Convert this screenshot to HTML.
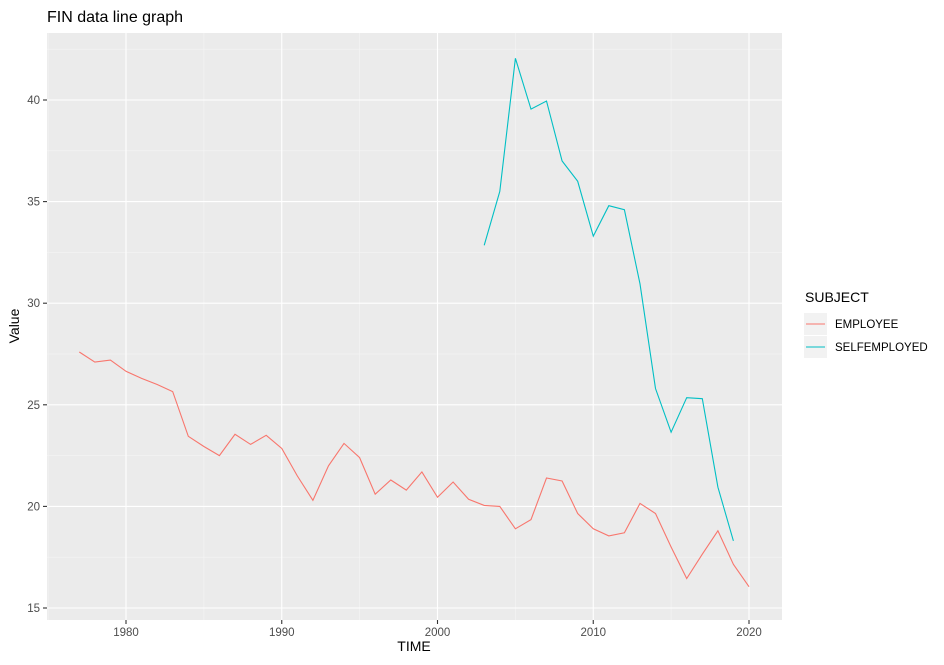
<!DOCTYPE html>
<html><head><meta charset="utf-8"><style>
body{margin:0;background:#fff;font-family:"Liberation Sans",Arial,sans-serif}
svg text{font-family:"Liberation Sans",Arial,sans-serif}
</style></head><body>
<svg id="chart" width="944" height="660" xmlns="http://www.w3.org/2000/svg">
<rect width="944" height="660" fill="#fff"/>
<text x="47" y="22" font-size="16" fill="#000">FIN data line graph</text>
<rect x="47" y="33" width="735" height="587" fill="#ebebeb"/>
<g id="grid"></g><g id="series"></g><g id="axes"></g>
<text x="414" y="651" font-size="14" text-anchor="middle">TIME</text>
<text transform="translate(19,326) rotate(-90)" font-size="14" text-anchor="middle">Value</text>
<g>
<text x="805" y="302" font-size="14">SUBJECT</text>
<rect x="804" y="313" width="23" height="22" fill="#f2f2f2"/>
<line x1="806" x2="825" y1="324" y2="324" stroke="#F8766D" stroke-width="1.1"/>
<text x="835" y="328" font-size="11.5">EMPLOYEE</text>
<rect x="804" y="336" width="23" height="22" fill="#f2f2f2"/>
<line x1="806" x2="825" y1="347" y2="347" stroke="#00BFC4" stroke-width="1.1"/>
<text x="835" y="351" font-size="11.5">SELFEMPLOYED</text>
</g>
</svg>
<script>
const empYears=[1977,1978,1979,1980,1981,1982,1983,1984,1985,1986,1987,1988,1989,1990,1991,1992,1993,1994,1995,1996,1997,1998,1999,2000,2001,2002,2003,2004,2005,2006,2007,2008,2009,2010,2011,2012,2013,2014,2015,2016,2017,2018,2019,2020];
const empValues=[27.6,27.1,27.2,26.65,26.3,26.0,25.65,23.45,22.95,22.5,23.55,23.05,23.5,22.85,21.5,20.3,22.0,23.1,22.4,20.6,21.3,20.8,21.7,20.45,21.2,20.35,20.05,20.0,18.9,19.35,21.4,21.25,19.65,18.9,18.55,18.7,20.15,19.65,18.0,16.45,17.65,18.8,17.15,16.05];
const selfYears=[2003,2004,2005,2006,2007,2008,2009,2010,2011,2012,2013,2014,2015,2016,2017,2018,2019];
const selfValues=[32.85,35.5,42.05,39.55,39.95,37.0,36.0,33.3,34.8,34.6,30.95,25.8,23.65,25.35,25.3,20.95,18.3];
const xTicks=[1980,1990,2000,2010,2020];
const yTicks=[15,20,25,30,35,40];
const NS="http://www.w3.org/2000/svg";
const xs=y=>126+(y-1980)*15.575;
const ys=v=>100+(40-v)*20.32;
const L=47,R=782,T=33,B=620;
function mk(tag,attrs,parent){const e=document.createElementNS(NS,tag);for(const k in attrs)e.setAttribute(k,attrs[k]);parent.appendChild(e);return e;}
const grid=document.getElementById('grid'),axes=document.getElementById('axes'),ser=document.getElementById('series');
// minor grid
for(let i=0;i<xTicks.length;i++){const m=xTicks[i]-5;const l=mk('line',{x1:xs(m),x2:xs(m),y1:T,y2:B,stroke:'#f5f5f5','stroke-width':0.6},grid);

}
{const m=xTicks[xTicks.length-1]+5;if(xs(m)<R){mk('line',{x1:xs(m),x2:xs(m),y1:T,y2:B,stroke:'#f5f5f5','stroke-width':0.6},grid);}}
for(let i=0;i<yTicks.length;i++){const m=yTicks[i]+2.5;if(ys(m)>T){const l=mk('line',{x1:L,x2:R,y1:ys(m),y2:ys(m),stroke:'#f5f5f5','stroke-width':0.6},grid);

}}
xTicks.forEach(t=>{const l=mk('line',{x1:xs(t),x2:xs(t),y1:T,y2:B,stroke:'#fff','stroke-width':1.1},grid);


mk('line',{x1:xs(t),x2:xs(t),y1:B,y2:B+4,stroke:'#333','stroke-width':1.1},axes);
const tx=mk('text',{x:xs(t),y:B+16,'font-size':11.5,fill:'#4d4d4d','text-anchor':'middle'},axes);tx.textContent=t;

});
yTicks.forEach(t=>{const l=mk('line',{x1:L,x2:R,y1:ys(t),y2:ys(t),stroke:'#fff','stroke-width':1.1},grid);


mk('line',{x1:L-4,x2:L,y1:ys(t),y2:ys(t),stroke:'#333','stroke-width':1.1},axes);
const tx=mk('text',{x:L-7,y:ys(t)+4,'font-size':11.5,fill:'#4d4d4d','text-anchor':'end'},axes);tx.textContent=t;

});
function line(years,vals,color,name){const p=years.map((y,i)=>xs(y).toFixed(1)+','+ys(vals[i]).toFixed(1)).join(' ');
const pl=mk('polyline',{points:p,fill:'none',stroke:color,'stroke-width':1.1},ser);

}
line(empYears,empValues,'#F8766D','employee-line');
line(selfYears,selfValues,'#00BFC4','selfemployed-line');
</script>
</body></html>
